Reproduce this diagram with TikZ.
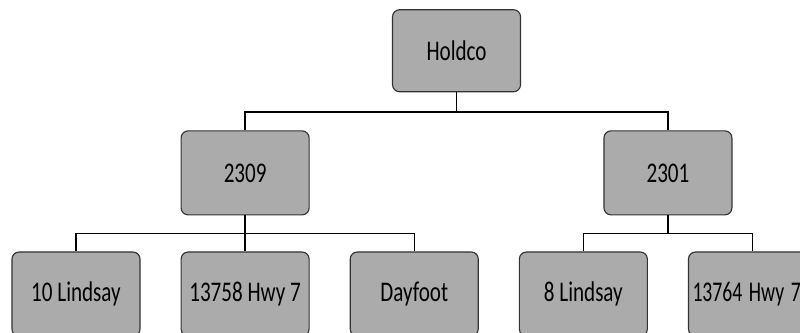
\documentclass[tikz,border=0pt]{standalone}
\usepackage{fontspec}
\setmainfont{Carlito}
\usetikzlibrary{positioning, calc}
\definecolor{boxfill}{HTML}{ABABAB}
\definecolor{boxline}{HTML}{333333}
\newcommand{\tall}[1]{\scalebox{1}[1.35]{#1}}

\begin{document}
\begin{tikzpicture}[
    every node/.style={font=\fontsize{15}{18}\selectfont},
    unit/.style={rectangle, draw=boxline, rounded corners=5pt, fill=boxfill,
                 minimum width=3.2cm, minimum height=2.1cm, align=center, line width=0.8pt},
    link/.style={line width=0.9pt, black}
]
    \useasboundingbox (0,0) rectangle (20,-8.325);
    \clip (0,0) rectangle (20,-8.325);
    % bottom row
    \node[unit] (lind10) at (1.9,-7.35) {\tall{10 Lindsay}};
    \node[unit, right=1cm of lind10] (hwy13758) {\tall{13758 Hwy 7}};
    \node[unit, right=1cm of hwy13758] (dayfoot) {\tall{Dayfoot}};
    \node[unit, right=1cm of dayfoot] (lind8) {\tall{8 Lindsay}};
    \node[unit, right=1cm of lind8, inner xsep=0.1cm, text width=3.0cm, align=left,
          font=\fontsize{14}{17}\selectfont] (hwy13764) {\scalebox{1}[1.45]{13764 Hwy 7}};
    % middle row
    \node[unit, above=0.9cm of hwy13758] (c2309) {\tall{2309}};
    \path (lind8.north) -- coordinate (mid2301) (hwy13764.north);
    \node[unit, above=0.9cm of mid2301] (c2301) {\tall{2301}};
    % top
    \path (c2309.north) -- coordinate (midtop) (c2301.north);
    \node[unit, minimum height=2.05cm, above=0.95cm of midtop] (holdco) {\tall{Holdco}};
    % connectors
    \draw[link] (holdco.south) -- ++(0,-0.49) -| (c2309.north);
    \draw[link] (holdco.south) -- ++(0,-0.49) -| (c2301.north);
    \draw[link] (c2309.south) -- ++(0,-0.45) -| (lind10.north);
    \draw[link] (c2309.south) -- (hwy13758.north);
    \draw[link] (c2309.south) -- ++(0,-0.45) -| (dayfoot.north);
    \draw[link] (c2301.south) -- ++(0,-0.45) -| (lind8.north);
    \draw[link] (c2301.south) -- ++(0,-0.45) -| (hwy13764.north);
\end{tikzpicture}
\end{document}
